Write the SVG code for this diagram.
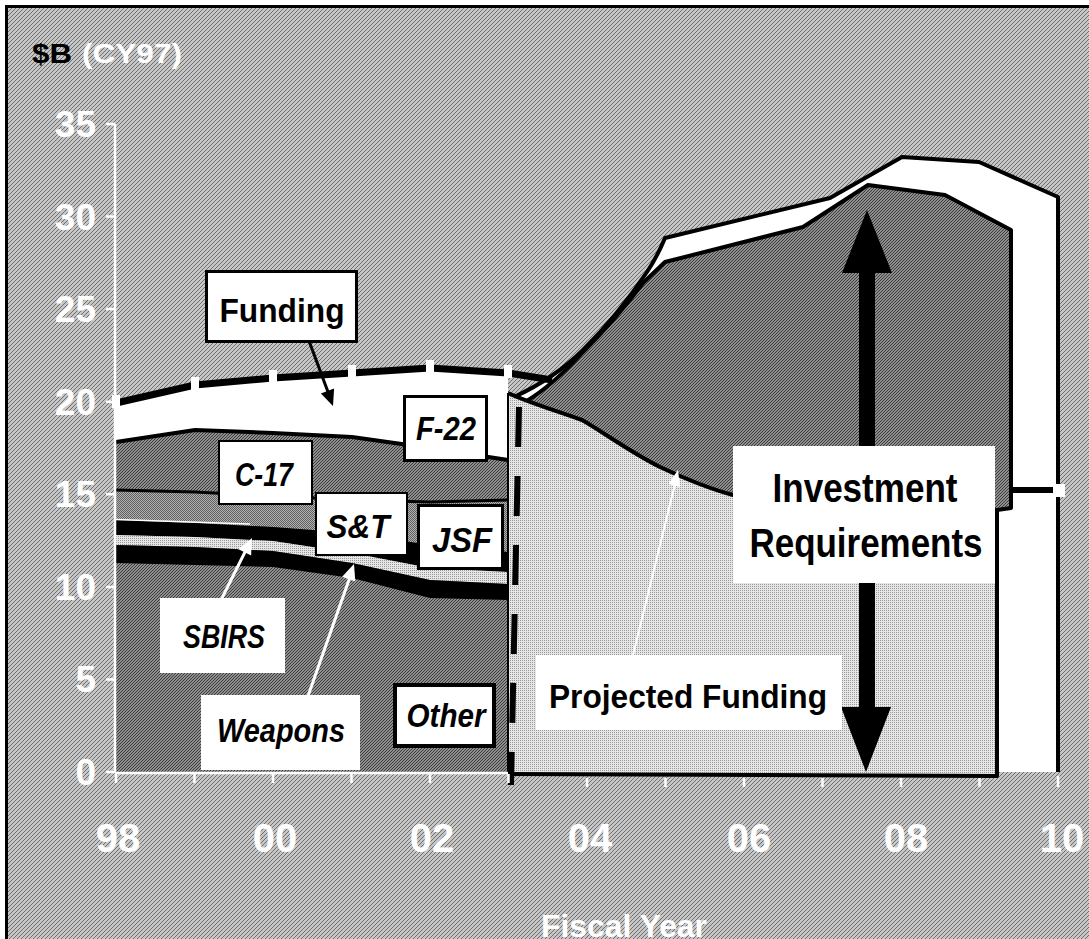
<svg xmlns="http://www.w3.org/2000/svg" width="1089" height="939" viewBox="0 0 1089 939">
<defs>
<pattern id="pBg" width="4" height="4" patternUnits="userSpaceOnUse"><rect width="4" height="4" fill="#c6c6c6"/><path d="M-1,1 L1,-1 M0,4 L4,0 M3,5 L5,3" stroke="#6f6f6f" stroke-width="1"/></pattern>
<pattern id="pDark" width="3" height="3" patternUnits="userSpaceOnUse"><rect width="3" height="3" fill="#8e8e8e"/><path d="M-1,1 L1,-1 M0,3 L3,0 M2,4 L4,2" stroke="#3c3c3c" stroke-width="1"/></pattern>
<pattern id="pMed" width="2" height="2" patternUnits="userSpaceOnUse"><rect width="2" height="2" fill="#b2b2b2"/><rect width="1" height="1" fill="#606060"/><rect x="1" y="1" width="1" height="1" fill="#606060"/></pattern>
<pattern id="pLight" width="2" height="2" patternUnits="userSpaceOnUse"><rect width="2" height="2" fill="#e6e6e6"/><rect width="1" height="1" fill="#999999"/></pattern>
<style>
text{font-family:"Liberation Sans",Arial,sans-serif;font-weight:bold}
.it{font-style:italic}
.ax{fill:#fff;font-size:37px}
.xl{fill:#fff;font-size:40px;text-anchor:middle}
.c{text-anchor:middle;fill:#000}
.bx{fill:#fff;stroke:#000}
.bk{fill:none;stroke:#000;stroke-linejoin:round}
.wl{stroke:#fff;stroke-width:2.5;fill:none}
</style>
</defs>

<rect width="1089" height="939" fill="#fff"/>
<rect x="6" y="6" width="1083" height="933" fill="url(#pBg)"/>
<path d="M5,6.5 H1089 M6.5,5 V939" stroke="#000" stroke-width="3"/>

<g id="title">
<text x="32" y="63" font-size="28" fill="#000" textLength="40" lengthAdjust="spacingAndGlyphs">$B</text>
<text x="82" y="63" font-size="28" fill="#fff" textLength="100" lengthAdjust="spacingAndGlyphs">(CY97)</text>
</g>

<g id="history-areas">
<path d="M116,442 L195,430 L273,433 L352,437 L430,448 L508,460 L508,772 L116,772 Z" fill="url(#pDark)"/>
<path d="M116,403 L195,385 L273,378 L352,373 L430,368 L508,373 L508,460 L430,448 L352,437 L273,433 L195,430 L116,442 Z" fill="#fff"/>
<path d="M116,490 L195,492 L273,496 L352,500 L430,502 L508,500 L508,552 L430,545 L352,533 L273,527 L195,523 L116,520 Z" fill="url(#pMed)"/>
<path d="M116,520 L195,523 L273,527 L352,533 L430,545 L508,552 L508,572 L430,568 L352,553 L273,541 L195,537 L116,535 Z" fill="#000"/>
<path d="M116,535 L195,537 L273,541 L352,553 L430,568 L508,572 L508,584 L430,580 L352,563 L273,551 L195,547 L116,545 Z" fill="url(#pLight)"/>
<path d="M116,545 L195,547 L273,551 L352,563 L430,580 L508,584 L508,600 L430,598 L352,578 L273,567 L195,565 L116,563 Z" fill="#000"/>
<path d="M116,519.5 L250,524" stroke="#fff" stroke-width="1.5"/>
<path class="bk" d="M116,490 L195,492 L273,496 L352,500 L430,502 L508,500" stroke-width="3"/>
<path class="bk" d="M116,442 L195,430 L273,433 L352,437 L430,448 L508,460" stroke-width="4"/>
</g>

<g id="requirement-areas">
<path d="M514,397 C540,385 565,368 583,350 C605,328 628,300 647,272 C655,260 660,250 665,238 L830,198 L902,157 L979,162 L1058,197 L1058,772 L508,772 L508,397 Z" fill="#fff"/>
<path class="bk" d="M514,397 C540,385 565,368 583,350 C605,328 628,300 647,272 C655,260 660,250 665,238 L830,198 L902,157 L979,162 L1058,197 L1058,772" stroke-width="4"/>
<path d="M525,402 C545,390 565,372 583,352 C605,330 628,303 643,283 L665,262 L803,227 L868,185 L945,195 L1011,230 L1011,508 L997,510 L733,495 C710,489 690,481 660,467 C630,452 600,430 582,420 C560,412 540,406 525,402 Z" fill="url(#pDark)"/>
<path class="bk" d="M525,402 C545,390 565,372 583,352 C605,330 628,303 643,283 L665,262 L803,227 L868,185 L945,195 L1011,230 L1011,508 L997,510" stroke-width="4"/>
<path d="M508,393 C530,403 560,412 582,420 C600,430 630,452 660,467 C690,481 710,489 733,495 L997,510 L997,776 L508,773 Z" fill="url(#pLight)"/>
<path class="bk" d="M508,393 C530,403 560,412 582,420 C600,430 630,452 660,467 C690,481 710,489 733,495 L997,510 L997,776 L508,774" stroke-width="4"/>
<path class="bk" d="M508,393 L508,773" stroke-width="2"/>
</g>

<g id="funding-line">
<path class="bk" d="M116,403 L195,385 L273,378 L352,373 L430,368 L508,373 L552,380" stroke-width="7"/>
<g fill="#fff">
<rect x="112" y="395" width="8" height="13"/>
<rect x="191" y="377" width="8" height="13"/>
<rect x="269" y="370" width="8" height="13"/>
<rect x="348" y="365" width="8" height="13"/>
<rect x="426" y="360" width="8" height="13"/>
<rect x="504" y="365" width="8" height="13"/>
</g>
<path d="M1012,490 L1053,490" stroke="#000" stroke-width="6"/>
<rect x="1053" y="484" width="12" height="13" fill="#fff"/>
</g>

<g id="divider">
<path d="M519,407 L511,785" stroke="#000" stroke-width="6" stroke-dasharray="40 29"/>
</g>

<g id="axes">
<path class="wl" d="M115,124 V773 M115,773 H508"/>
<path class="wl" d="M106,772 H115 M106,679.4 H115 M106,586.9 H115 M106,494.3 H115 M106,401.7 H115 M106,309.1 H115 M106,216.6 H115 M106,124 H115"/>
<path class="wl" d="M116,774 V783 M194.5,774 V783 M273,774 V783 M351.5,774 V783 M430,774 V783 M508.5,774 V783 M587,778 V787 M665.5,778 V787 M744,778 V787 M822.5,778 V787 M901,778 V787 M979.5,778 V787 M1058,776 V787"/>
<g text-anchor="end">
<text class="ax" x="96" y="785">0</text>
<text class="ax" x="96" y="692">5</text>
<text class="ax" x="96" y="600">10</text>
<text class="ax" x="96" y="507">15</text>
<text class="ax" x="96" y="415">20</text>
<text class="ax" x="96" y="322">25</text>
<text class="ax" x="96" y="230">30</text>
<text class="ax" x="96" y="137">35</text>
</g>
<text class="xl" x="118" y="852">98</text>
<text class="xl" x="275" y="852">00</text>
<text class="xl" x="432" y="852">02</text>
<text class="xl" x="590" y="852">04</text>
<text class="xl" x="749" y="852">06</text>
<text class="xl" x="906" y="852">08</text>
<text class="xl" x="1062" y="852">10</text>
<text x="541" y="937" font-size="32" fill="#fff" textLength="166" lengthAdjust="spacingAndGlyphs">Fiscal Year</text>
</g>

<g id="connectors">
<path d="M302,322 L328,392" stroke="#000" stroke-width="3"/>
<polygon points="333,406 334.1,388.6 320.9,393.4" fill="#000"/>
<path d="M220,602 L246,550" stroke="#fff" stroke-width="3"/>
<polygon points="252,538 251.1,555.4 238.5,549.2" fill="#fff"/>
<path d="M308,696 L350,577" stroke="#fff" stroke-width="3"/>
<polygon points="354,564 355.3,581.4 342.1,576.8" fill="#fff"/>
<path d="M633,655 L675,484" stroke="#fff" stroke-width="2"/>
<polygon points="678,470 680,486.9 668.4,484.1" fill="#fff"/>
<polygon points="867,210 892,273 875,273 875,707 891,707 866,772 841,707 859,707 859,273 842,273" fill="#000"/>
</g>

<g id="node-funding">
<rect class="bx" x="206.5" y="271.5" width="150" height="70" stroke-width="3"/>
<text class="c" x="282" y="322" font-size="34" textLength="125" lengthAdjust="spacingAndGlyphs">Funding</text>
</g>
<g id="node-f22">
<rect class="bx" x="404.5" y="396.5" width="82" height="64" stroke-width="3"/>
<text class="c it" x="446" y="440" font-size="34" textLength="60" lengthAdjust="spacingAndGlyphs">F-22</text>
</g>
<g id="node-c17">
<rect class="bx" x="219" y="441" width="93" height="63" stroke-width="2"/>
<text class="c it" x="264" y="486" font-size="33" textLength="58" lengthAdjust="spacingAndGlyphs">C-17</text>
</g>
<g id="node-st">
<rect class="bx" x="316" y="493" width="91" height="62" stroke-width="2"/>
<text class="c it" x="358" y="538" font-size="34" textLength="63" lengthAdjust="spacingAndGlyphs">S&amp;T</text>
</g>
<g id="node-jsf">
<rect class="bx" x="418.5" y="505.5" width="84" height="63" stroke-width="3"/>
<text class="c it" x="462" y="552" font-size="35" textLength="60" lengthAdjust="spacingAndGlyphs">JSF</text>
</g>
<g id="node-sbirs">
<rect x="160" y="598" width="125" height="75" fill="#fff"/>
<text class="c it" x="224" y="648" font-size="33" textLength="82" lengthAdjust="spacingAndGlyphs">SBIRS</text>
</g>
<g id="node-weapons">
<rect x="201" y="695" width="159" height="75" fill="#fff"/>
<text class="c it" x="281" y="742" font-size="33" textLength="128" lengthAdjust="spacingAndGlyphs">Weapons</text>
</g>
<g id="node-other">
<rect class="bx" x="395" y="685" width="99" height="61" stroke-width="4"/>
<text class="c it" x="446" y="727" font-size="33" textLength="79" lengthAdjust="spacingAndGlyphs">Other</text>
</g>
<g id="node-projected">
<rect x="536" y="655" width="306" height="75" fill="#fff"/>
<text class="c" x="688" y="708" font-size="34" textLength="278" lengthAdjust="spacingAndGlyphs">Projected Funding</text>
</g>
<g id="node-investment">
<rect x="733" y="446" width="262" height="137" fill="#fff"/>
<text class="c" x="865" y="502" font-size="41" textLength="185" lengthAdjust="spacingAndGlyphs">Investment</text>
<text class="c" x="866" y="557" font-size="41" textLength="233" lengthAdjust="spacingAndGlyphs">Requirements</text>
</g>
</svg>
